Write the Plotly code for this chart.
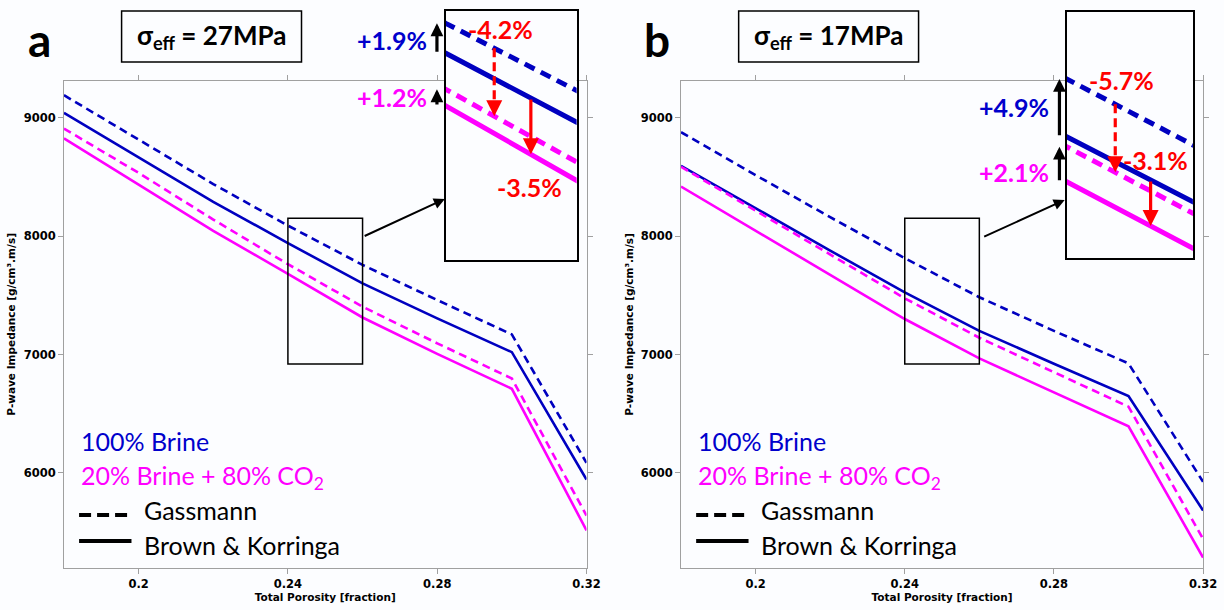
import numpy as np
import plotly.graph_objects as go

# ---------------- data ----------------
porosity = [0.18, 0.20, 0.22, 0.24, 0.26, 0.28, 0.30, 0.32]

# panel a : sigma_eff = 27 MPa
a_brine_gassmann = [9190, 8812, 8440, 8089, 7757, 7460, 7170, 6085]
a_brine_bk       = [9040, 8665, 8290, 7941, 7601, 7305, 7020, 5945]
a_co2_gassmann   = [8908, 8534, 8140, 7763, 7404, 7095, 6798, 5640]
a_co2_bk         = [8826, 8433, 8045, 7681, 7313, 7005, 6711, 5515]

# panel b : sigma_eff = 17 MPa
b_brine_gassmann = [8878, 8515, 8160, 7814, 7484, 7200, 6925, 5925]
b_brine_bk       = [8594, 8235, 7878, 7525, 7200, 6922, 6649, 5683]
b_co2_gassmann   = [8585, 8215, 7845, 7475, 7142, 6850, 6560, 5442]
b_co2_bk         = [8419, 8045, 7670, 7300, 6967, 6680, 6394, 5286]

x_tickvals = [0.2, 0.24, 0.28, 0.32]
x_ticktext = ["0.2", "0.24", "0.28", "0.32"]
y_tickvals = [6000, 7000, 8000, 9000]
y_ticktext = ["6000", "7000", "8000", "9000"]
x_range = [0.18, 0.32]
y_range = [5200, 9310]
zoom_x = [0.24, 0.26]
zoom_y = [6920, 8150]

panel_letters = ["a", "b"]
stress_labels = ["27MPa", "17MPa"]
brine_pct = ["+1.9%", "+4.9%"]
co2_pct = ["+1.2%", "+2.1%"]
gassmann_pct = ["-4.2%", "-5.7%"]
bk_pct = ["-3.5%", "-3.1%"]
red_dash_x = [0.2474, 0.2477]
red_solid_x = [0.2530, 0.2533]

# ---------------- styling / layout ----------------
W, H = 1224, 610
BLUE = "#0000c0"
BLUE_TXT = "#0000cc"
MAG = "#ff00ff"
RED = "#ff0000"
AXC = "#a0a0a0"
TXT_FONT = "Lato"
TICK_FONT = "DejaVu Sans"


def px(x):
    return x / W


def py(y):
    return 1 - y / H


main_x = [(64.7, 593.3), (688.9, 1217.0)]
main_y = (81.0, 567.7)
inset_x = [(451.0, 583.3), (1079.0, 1206.7)]
inset_y = [(11.0, 260.0), (11.7, 257.7)]

panels = [
    (a_brine_gassmann, a_brine_bk, a_co2_gassmann, a_co2_bk),
    (b_brine_gassmann, b_brine_bk, b_co2_gassmann, b_co2_bk),
]

fig = go.Figure()

for p, (bg, bb, cg, cb) in enumerate(panels):
    xm, ym = ("x", "y") if p == 0 else ("x2", "y2")
    xi, yi = ("x3", "y3") if p == 0 else ("x4", "y4")
    series = [(bg, BLUE, True), (bb, BLUE, False), (cg, MAG, True), (cb, MAG, False)]
    for vals, col, dashed in series:
        fig.add_trace(go.Scatter(x=porosity, y=vals, mode="lines", xaxis=xm, yaxis=ym,
                                 line=dict(color=col, width=2.6,
                                           dash="8px,5px" if dashed else "solid"),
                                 showlegend=False, hoverinfo="skip"))
    for vals, col, dashed in series:
        fig.add_trace(go.Scatter(x=porosity, y=vals, mode="lines", xaxis=xi, yaxis=yi,
                                 line=dict(color=col, width=5,
                                           dash="11px,7px" if dashed else "solid"),
                                 showlegend=False, hoverinfo="skip"))

tickfont = dict(family=TICK_FONT, size=11.5, color="black", weight="bold")
titlefont = dict(family=TICK_FONT, size=10.5, color="black", weight="bold")


def main_xaxis(dom, anchor):
    return dict(domain=[px(dom[0]), px(dom[1])], anchor=anchor, range=x_range,
                tickvals=x_tickvals, ticktext=x_ticktext, ticks="outside", ticklen=5,
                tickcolor=AXC, tickwidth=1, showline=True, linecolor=AXC, linewidth=1,
                mirror="allticks", showgrid=False, zeroline=False, tickfont=tickfont,
                title=dict(text="Total Porosity [fraction]", font=titlefont, standoff=4))


def main_yaxis(anchor):
    return dict(domain=[py(main_y[1]), py(main_y[0])], anchor=anchor, range=y_range,
                tickvals=y_tickvals, ticktext=y_ticktext, ticks="outside", ticklen=5,
                tickcolor=AXC, tickwidth=1, showline=True, linecolor=AXC, linewidth=1,
                mirror="allticks", showgrid=False, zeroline=False, tickfont=tickfont,
                title=dict(text="P-wave Impedance [g/cm³.m/s]", font=titlefont, standoff=5))


def inset_axis(dom, rng, anchor, is_x):
    d = [px(dom[0]), px(dom[1])] if is_x else [py(dom[1]), py(dom[0])]
    return dict(domain=d, anchor=anchor, range=rng, showticklabels=False, ticks="",
                showline=True, linecolor="black", linewidth=2, mirror=True,
                showgrid=False, zeroline=False, layer="above traces")


fig.update_layout(
    width=W, height=H, margin=dict(l=0, r=0, t=0, b=0),
    paper_bgcolor="#fcfdff", plot_bgcolor="#fcfdff", showlegend=False,
    xaxis=main_xaxis(main_x[0], "y"), yaxis=main_yaxis("x"),
    xaxis2=main_xaxis(main_x[1], "y2"), yaxis2=main_yaxis("x2"),
    xaxis3=inset_axis(inset_x[0], zoom_x, "y3", True),
    yaxis3=inset_axis(inset_y[0], zoom_y, "x3", False),
    xaxis4=inset_axis(inset_x[1], zoom_x, "y4", True),
    yaxis4=inset_axis(inset_y[1], zoom_y, "x4", False),
)

shapes = []
annos = []


def text(x, y, t, size, color="black", xanchor="center", yanchor="middle"):
    annos.append(dict(x=px(x), y=py(y), xref="paper", yref="paper", text=t,
                      showarrow=False, xanchor=xanchor, yanchor=yanchor,
                      font=dict(family=TXT_FONT, size=size, color=color)))


offsets = [0.0, 624.2]
pct_pos = [
    dict(brine=(434, 40), co2=(434, 97), gas=(506, 29), bk=(536, 187), arrow_x=442,
         conn_head=(450, 199), conn_tail=(368.3, 236.7)),
    dict(brine=(1063, 107), co2=(1063, 172), gas=(1134, 80), bk=(1169, 160), arrow_x=1071.7,
         conn_head=(1077, 200), conn_tail=(995, 237.3)),
]

for p, (bg, bb, cg, cb) in enumerate(panels):
    dx = offsets[p]
    xm, ym = ("x", "y") if p == 0 else ("x2", "y2")
    xi, yi = ("x3", "y3") if p == 0 else ("x4", "y4")
    # panel letter & stress box
    text(40 + dx, 40, "<b>%s</b>" % panel_letters[p], 46)
    shapes.append(dict(type="rect", xref="paper", yref="paper",
                       x0=px(123 + dx), x1=px(305 + dx), y0=py(62), y1=py(11),
                       line=dict(color="black", width=1.5), fillcolor="rgba(0,0,0,0)"))
    text(214 + dx, 36, "<b>σ<sub>eff</sub> = %s</b>" % stress_labels[p], 26)

    # zoom rectangle on main plot
    shapes.append(dict(type="rect", xref=xm, yref=ym, x0=zoom_x[0], x1=zoom_x[1],
                       y0=zoom_y[0], y1=zoom_y[1], line=dict(color="black", width=1.5)))
    # connector arrow
    hx, hy = pct_pos[p]["conn_head"]
    tx, ty = pct_pos[p]["conn_tail"]
    annos.append(dict(x=px(hx), y=py(hy), xref="paper", yref="paper", text="",
                      showarrow=True, ax=tx - hx, ay=ty - hy, axref="pixel", ayref="pixel",
                      arrowhead=2, arrowsize=1.1, arrowwidth=2, arrowcolor="black"))

    # black arrows at left edge of zoom window
    ax_px = pct_pos[p]["arrow_x"]
    xl = zoom_x[0]
    for top, bot in [(bg, bb), (cg, cb)]:
        annos.append(dict(x=px(ax_px), y=float(np.interp(xl, porosity, top)), xref="paper", yref=yi,
                          text="", showarrow=True, axref="pixel", ax=0, ayref=yi,
                          ay=float(np.interp(xl, porosity, bot)),
                          arrowhead=2, arrowsize=0.8, arrowwidth=3.2, arrowcolor="black"))
    bx, byy = pct_pos[p]["brine"]
    text(bx, byy, "<b>%s</b>" % brine_pct[p], 25, BLUE_TXT, xanchor="right")
    cx, cy = pct_pos[p]["co2"]
    text(cx, cy, "<b>%s</b>" % co2_pct[p], 25, MAG, xanchor="right")

    # red arrows inside inset
    xd = red_dash_x[p]
    y_top = float(np.interp(xd, porosity, bg))
    y_bot = float(np.interp(xd, porosity, cg))
    shapes.append(dict(type="line", xref=xi, yref=yi, x0=xd, x1=xd, y0=y_top, y1=y_bot,
                       line=dict(color=RED, width=3.2, dash="9px,5px")))
    annos.append(dict(x=xd, y=y_bot, xref=xi, yref=yi, text="", showarrow=True,
                      axref="pixel", ayref="pixel", ax=0, ay=-14,
                      arrowhead=2, arrowsize=1.0, arrowwidth=3.2, arrowcolor=RED))
    xs = red_solid_x[p]
    annos.append(dict(x=xs, y=float(np.interp(xs, porosity, cb)), xref=xi, yref=yi, text="",
                      showarrow=True, axref="pixel", ax=0, ayref=yi,
                      ay=float(np.interp(xs, porosity, bb)),
                      arrowhead=2, arrowsize=1.0, arrowwidth=3.2, arrowcolor=RED))
    gx, gy = pct_pos[p]["gas"]
    text(gx, gy, "<b>%s</b>" % gassmann_pct[p], 25, RED)
    kx, ky = pct_pos[p]["bk"]
    text(kx, ky, "<b>%s</b>" % bk_pct[p], 25, RED)

    # legend block
    text(80 + dx, 441, "100% Brine", 25, BLUE_TXT, xanchor="left")
    text(80 + dx, 477, "20% Brine + 80% CO<sub>2</sub>", 25, MAG, xanchor="left")
    text(144 + dx, 510, "Gassmann", 25, "black", xanchor="left")
    text(144 + dx, 545, "Brown &amp; Korringa", 25, "black", xanchor="left")
    shapes.append(dict(type="line", xref="paper", yref="paper", x0=px(80 + dx), x1=px(130 + dx),
                       y0=py(515), y1=py(515), line=dict(color="black", width=4, dash="12px,6px")))
    shapes.append(dict(type="line", xref="paper", yref="paper", x0=px(80 + dx), x1=px(133 + dx),
                       y0=py(541), y1=py(541), line=dict(color="black", width=4)))

fig.update_layout(shapes=shapes, annotations=annos)
fig.write_html("out.html")
